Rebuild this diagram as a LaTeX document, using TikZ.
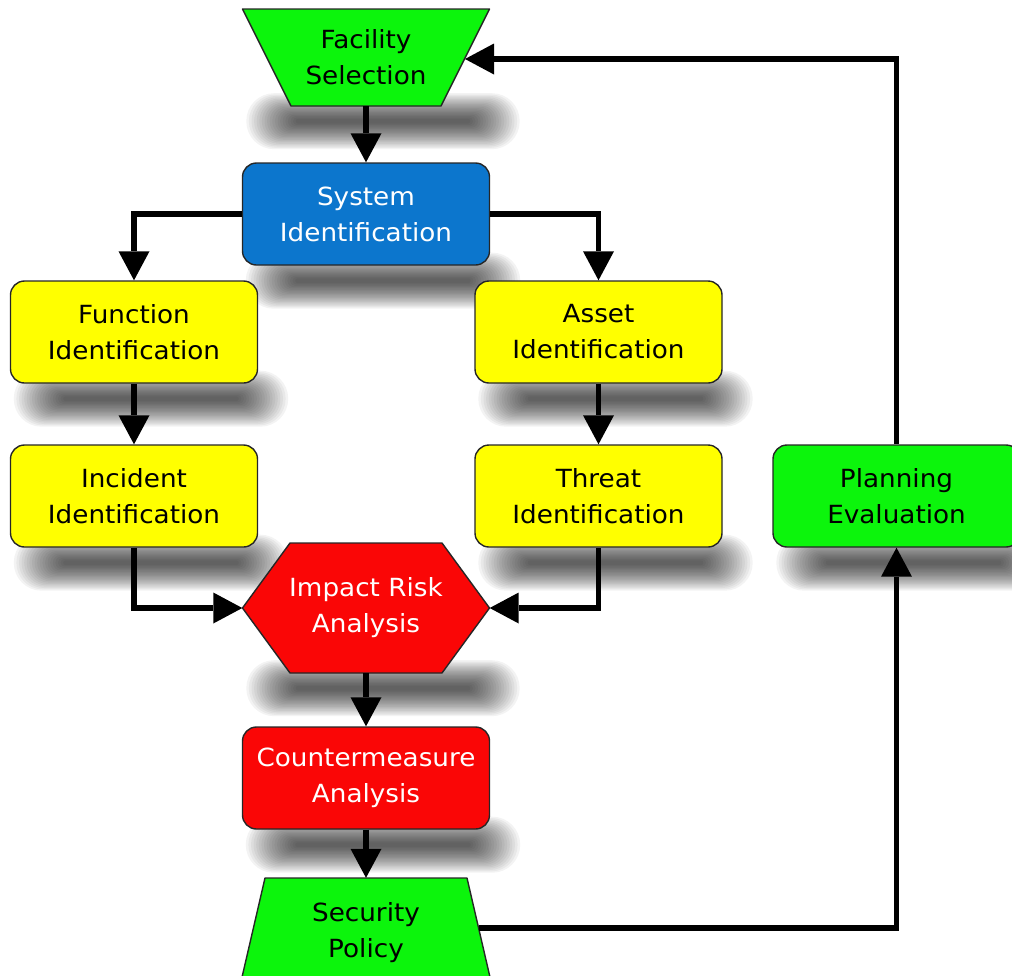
\documentclass[tikz,border=0pt]{standalone}
\usepackage{fontspec}
\setmainfont{DejaVu Sans}[FakeStretch=1.05]
\usetikzlibrary{arrows.meta,calc,backgrounds}

\definecolor{boxgreen}{RGB}{12,245,12}
\definecolor{boxyellow}{RGB}{255,255,0}
\definecolor{boxred}{RGB}{250,6,6}
\definecolor{boxblue}{RGB}{12,118,205}

\tikzset{
  x=1pt, y=-1pt,
  shadowlayer/.style={fill=black, fill opacity=0.046},
  outline/.style={draw=black!85, line width=1.4pt, line join=round},
  txt/.style={align=center, inner sep=0pt, font=\fontsize{25}{36}\selectfont},
  stepbox/.style={txt, outline, rounded corners=14pt,
      minimum width=247pt, minimum height=102pt},
  conn/.style={draw=black, line width=5.5pt, line join=miter,
      -{Triangle[length=29pt,width=31pt,line width=0pt]}},
}
% soft shadow band under a shape: stacked translucent stadium shapes
\newcommand{\shadowunder}[1]{%
  \foreach \k in {0,...,19}{%
    \pgfmathsetmacro{\rad}{max(0.5,(56-2.7*\k)/2-0.2)}%
    \path[shadowlayer, rounded corners=\rad pt]
      ($(#1.south west)+(4+2.6*\k,-13+1.35*\k)$)
      rectangle ($(#1.south east)+(30-2.6*\k,43-1.35*\k)$);}}

\begin{document}
\begin{tikzpicture}
\clip (0,0) rectangle (1012,975);
\useasboundingbox (0,0) rectangle (1012,975);

% Facility Selection (trapezoid, wide on top)
\coordinate (facC) at (366,57.5);
\path[outline, fill=boxgreen]
  ($(facC)+(-123.5,-48.5)$) -- ($(facC)+(123.5,-48.5)$) --
  ($(facC)+(75,48.5)$) -- ($(facC)+(-75,48.5)$) -- cycle;
\node[txt, minimum width=247pt, minimum height=97pt] (fac) at (facC) {Facility\\Selection};
\coordinate (facR) at (465,59);

% System Identification
\node[stepbox, fill=boxblue, text=white] (sys) at (366,214) {System\\Identification};

% Left and right branches
\node[stepbox, fill=boxyellow] (fun) at (134,332) {Function\\Identification};
\node[stepbox, fill=boxyellow] (ast) at (598.5,332) {Asset\\Identification};
\node[stepbox, fill=boxyellow] (inc) at (134,496) {Incident\\Identification};
\node[stepbox, fill=boxyellow] (thr) at (598.5,496) {Threat\\Identification};

% Planning Evaluation
\node[stepbox, fill=boxgreen] (pln) at (896.5,496) {Planning\\Evaluation};

% Impact Risk Analysis (hexagon)
\coordinate (impC) at (366,608);
\path[outline, fill=boxred]
  ($(impC)+(-123.5,0)$) -- ($(impC)+(-76,-65)$) -- ($(impC)+(76,-65)$) --
  ($(impC)+(123.5,0)$) -- ($(impC)+(76,65)$) -- ($(impC)+(-76,65)$) -- cycle;
\node[txt, text=white, minimum width=247pt, minimum height=130pt] (imp) at (impC) {Impact Risk\\Analysis};

% Countermeasure Analysis
\node[stepbox, fill=boxred, text=white] (cma) at (366,778) {Countermeasure\\Analysis};

% Security Policy (trapezoid, wide at the bottom)
\coordinate (secC) at (366,933);
\path[outline, fill=boxgreen]
  ($(secC)+(-101,-55)$) -- ($(secC)+(101,-55)$) --
  ($(secC)+(126.5,55)$) -- ($(secC)+(-126.5,55)$) -- cycle;
\node[txt, minimum width=247pt, minimum height=110pt] (sec) at (secC) {Security\\Policy};
\coordinate (secR) at (479,928);

% Shadows under the shapes
\begin{scope}[on background layer]
  \foreach \n in {fac,sys,fun,ast,inc,thr,pln,imp,cma}{\shadowunder{\n}}
\end{scope}

% Connectors
\draw[conn] (fac.south) -- (sys.north);
\draw[conn] (sys.west) -| (fun.north);
\draw[conn] (sys.east) -| (ast.north);
\draw[conn] (fun.south) -- (inc.north);
\draw[conn] (ast.south) -- (thr.north);
\draw[conn] (inc.south) |- (imp.west);
\draw[conn] (thr.south) |- (imp.east);
\draw[conn] (imp.south) -- (cma.north);
\draw[conn] (cma.south) -- (sec.north);
\draw[conn] (secR) -| (pln.south);
\draw[conn] (pln.north) |- (facR);
\end{tikzpicture}
\end{document}
